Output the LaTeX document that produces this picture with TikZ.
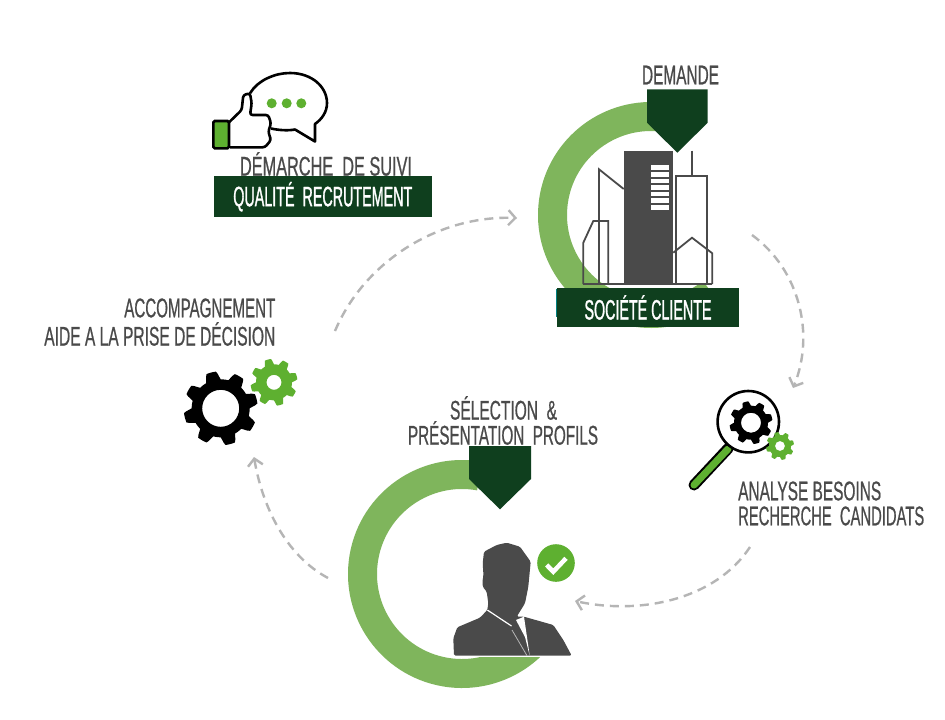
\documentclass[tikz,border=0pt]{standalone}
\usepackage{fontspec}
\newfontfamily\labelfont{Liberation Sans}[FakeStretch=0.58,FakeBold=0.6]
\newfontfamily\bannerfont{Liberation Sans}[FakeStretch=0.58,FakeBold=1.1]
\usetikzlibrary{arrows.meta}
\definecolor{ringgreen}{HTML}{7FB55C}
\definecolor{darkgreen}{HTML}{0F3F1E}
\definecolor{brightgreen}{HTML}{5EB030}
\definecolor{textgray}{HTML}{4A4A4A}
\definecolor{linegray}{HTML}{B5B5B5}
\newcommand{\gearshape}[6]{% centre x, centre y, outer, root, hole, colour
\fill[#6,even odd rule,shift={(#1,#2)}] plot[domain=0:357.5,samples=144] (\x:{#4+(#3-#4)*min(1,max(0,0.5+1.15*cos(8*\x+120)))}) -- cycle (0,0) circle (#5);
}
\newcommand{\fitw}[2]{\resizebox{#1pt}{\height}{#2}}
\begin{document}
\begin{tikzpicture}[x=1pt,y=-1pt,
  label/.style={text=textgray,font=\fontsize{27}{27}\labelfont,inner sep=0pt},
  banner/.style={fill=darkgreen,text=white,font=\fontsize{28}{28}\bannerfont,inner sep=0pt},
  ring/.style={ringgreen,line width=29pt},
  flow/.style={linegray,line width=2.4pt,dash pattern=on 9pt off 6pt,-{Straight Barb[length=7pt,width=15pt]}},
  outline/.style={textgray,line width=1.8pt,line join=miter}]
\useasboundingbox (0,0) rectangle (945,720);
\fill[white] (0,0) rectangle (945,720);

\coordinate (clientc) at (651,215);
\coordinate (profilc) at (462,574);

% rings
\draw[ring] (clientc) ++(-85:98.5) arc (-85:-308:98.5);
\draw[ring] (profilc) ++(-80:99.5) arc (-80:-320:99.5);
\fill[white] (608.5,170) rectangle (715,283);
\fill[white] (454,600) rectangle (572,657);

% building
\fill[textgray] (623.7,150.7) rectangle (673.3,284);
\foreach \i in {0,...,6}
{
    \fill[white] (651,165.3+\i*6.6) rectangle (669.3,170+\i*6.6);
}
\draw[outline] (599,284)--(599,169.3)--(623.7,189);
\draw[outline] (583.3,284)--(583.3,242.7)--(593.3,221)--(608.3,221)--(608.3,284);
\draw[outline] (675.7,284)--(675.7,176)--(707.3,176)--(707.3,284);
\draw[outline] (692,150.7)--(692,176);
\draw[outline] (673.3,252.7)--(692,237.7)--(712.3,253.3)--(712.3,284);
\draw[outline] (583.3,284)--(712.3,284);

% pentagons
\fill[darkgreen] (647,89.3)--(707.7,89.3)--(707.7,122.7)--(677.3,152.7)--(647,122.7)--cycle;
\fill[darkgreen] (469,446)--(531,446)--(531,479)--(500,509.3)--(469,479)--cycle;

% banners
\draw[teal,line width=1pt] (556.5,288.5)--(556.5,317);
\node[banner,minimum width=182pt,minimum height=38.7pt] (client) at (648,307.5) {\fitw{127}{SOCIÉTÉ CLIENTE}};
\node[banner,minimum width=217.7pt,minimum height=41.3pt] (qualite) at (322.8,196.7) {\fitw{179}{QUALITÉ~~RECRUTEMENT}};

% labels
\node[label] (demande) at (680.5,75) {\fitw{77}{DEMANDE}};
\node[label] (suivi) at (326,164) {\fitw{172}{DÉMARCHE~~DE SUIVI}};
\node[label,anchor=east] (accomp) at (275.5,308) {\fitw{151}{ACCOMPAGNEMENT}};
\node[label,anchor=east] (aide) at (275.5,334) {\fitw{231}{AIDE A LA PRISE DE DÉCISION}};
\node[label] (selection) at (503.5,408) {\fitw{107}{SÉLECTION~~\&}};
\node[label] (presentation) at (503,433) {\fitw{190}{PRÉSENTATION~~PROFILS}};
\node[label,anchor=west] (analyse) at (738,491) {\fitw{143}{ANALYSE BESOINS}};
\node[label,anchor=west] (recherche) at (738,516) {\fitw{186}{RECHERCHE~~CANDIDATS}};

% thumb and bubble
\draw[black,line width=2.6pt,line join=round] (250,93.3) .. controls (258,80) and (275,73) .. (290,73)
  .. controls (312,73) and (327,87) .. (327,103) .. controls (327,112) and (322,119) .. (315,124)
  -- (315,141.5) -- (295,129.5) .. controls (287,131) and (278,130) .. (271,128.5);
\foreach \x in {271.7,286.7,301.3}
{
    \fill[brightgreen] (\x,103.3) circle (5);
}
\draw[black,line width=2.6pt,line join=round,fill=white,rounded corners=2.5pt] (229,122.3)--(241.7,110)--(243.3,95)--(250,93.3)--(251.7,103.3)--(250,115)
  --(268.3,115)--(271,123.3)--(268.3,131.7)--(271,140)--(265,147.3)--(230,147.3);
\draw[black,line width=2.6pt,fill=brightgreen,rounded corners=1.5pt] (213.3,121) rectangle (229,148.3);

% gears
\gearshape{220.7}{408.3}{37}{29}{18.5}{black}
\gearshape{274}{382.3}{23.5}{18}{7.5}{brightgreen}

% magnifier
\draw[black,line width=11pt,line cap=round] (728.3,448.3)--(694,485);
\draw[brightgreen,line width=7pt,line cap=round] (728,449)--(694,485);
\draw[black,line width=2.6pt,fill=white] (748.3,421.7) circle (30.7);
\gearshape{751}{422.7}{21.5}{17}{10}{black}
\gearshape{780}{446}{14}{11}{5}{brightgreen}

% person
\fill[textgray,rounded corners=1.5pt] (454,655.7)--(453.3,638.3)--(457.3,627.3)--(480,617.7)--(487.3,610)--(488.3,603.3)--(486.7,591.7)
  --(482.7,586.7)--(482.7,578.3)--(483.5,576)--(482.7,563.3)--(484,551.7)--(496.7,545)--(506.7,542.7)--(520,546.7)
  --(530.7,561.7)--(528.3,586.7)--(525,603.3)--(516.7,616.7)--(524,616.7)--(553.3,625)--(563.3,640)--(571.7,655.7)--cycle;
\draw[white,line width=1.2pt] (487.3,610)--(511.5,626);
\fill[white] (516,620)--(524,616.7)--(529.7,655.7)--(525,637)--cycle;
\draw[linegray,line width=.8pt] (512,630)--(527,655.7);

% check mark
\fill[brightgreen] (556,563) circle (18.8);
\draw[white,line width=4.5pt] (546.7,565)--(553.3,571.7)--(566,558.3);

% flow arcs
\coordinate (flowa) at (335,331);
\coordinate (flowb) at (517,218);
\coordinate (flowc) at (752,235);
\coordinate (flowd) at (793,388);
\coordinate (flowe) at (750,547);
\coordinate (flowf) at (575,601);
\coordinate (flowg) at (328,578);
\coordinate (flowh) at (254,457);
\draw[flow] (flowa) .. controls (365,260) and (440,215) .. (flowb);
\draw[flow] (flowc) .. controls (800,270) and (815,335) .. (flowd);
\draw[flow] (flowe) .. controls (715,600) and (640,615) .. (flowf);
\draw[flow] (flowg) .. controls (285,555) and (262,505) .. (flowh);
\end{tikzpicture}
\end{document}
